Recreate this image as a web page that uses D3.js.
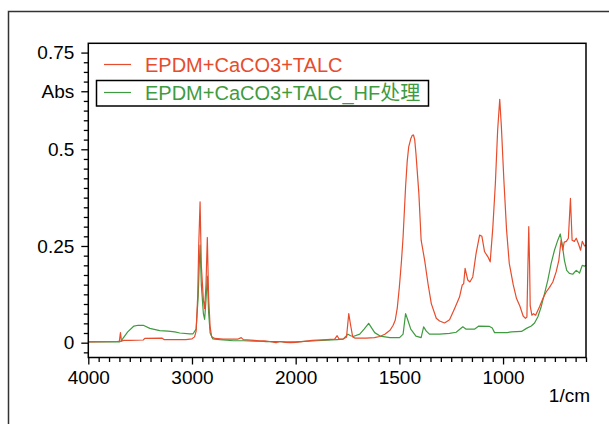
<!DOCTYPE html>
<html>
<head>
<meta charset="utf-8">
<script src="https://cdn.jsdelivr.net/npm/d3@7"></script>
<style>
  body { margin: 0; background: #fff; }
  svg { display: block; }
  .axis text { font-family: "Liberation Sans", Arial, sans-serif; font-size: 19px; fill: #000; }
  .axis line { stroke: #000; stroke-width: 1.3; }
  .legend text { font-family: "Liberation Sans", Arial, "Noto Sans CJK SC", sans-serif; font-size: 20px; }
</style>
</head>
<body>
<svg id="chart"></svg>
<script>
// series names (legend)
const seriesNames = ["EPDM+CaCO3+TALC", "EPDM+CaCO3+TALC_HF处理"];
const seriesColors = ["#e74c2c", "#3f9b3f"];

// [wavenumber 1/cm, absorbance]
const talcPoints = [
  [4000,0.002],[3720,0.003],[3700,0.004],[3690,0.026],[3680,0.004],[3660,0.006],[3600,0.006],
  [3470,0.007],[3455,0.011],[3290,0.012],[3270,0.008],[3060,0.008],[3000,0.010],[2975,0.015],
  [2960,0.03],[2945,0.12],[2935,0.25],[2922,0.364],[2910,0.2],[2890,0.11],[2878,0.088],[2865,0.15],
  [2852,0.272],[2840,0.12],[2825,0.04],[2810,0.015],[2780,0.011],[2700,0.009],[2560,0.009],
  [2525,0.013],[2505,0.008],[2400,0.006],[2350,0.005],[2300,0.005],[2250,0.003],[2190,0.000],
  [2150,0.003],[2100,0.001],[2050,0.000],[2000,0.001],[1980,0.002],[1920,0.006],[1850,0.008],
  [1812,0.009],[1800,0.018],[1790,0.009],[1770,0.010],[1755,0.014],[1744,0.075],[1735,0.045],
  [1725,0.015],[1715,0.012],[1660,0.012],[1620,0.013],[1595,0.016],[1570,0.022],[1545,0.032],
  [1530,0.045],[1520,0.058],[1510,0.09],[1500,0.144],[1490,0.21],[1482,0.274],[1470,0.403],
  [1462,0.47],[1455,0.506],[1445,0.527],[1438,0.536],[1432,0.537],[1426,0.525],[1420,0.489],
  [1406,0.386],[1395,0.265],[1378,0.213],[1362,0.153],[1346,0.101],[1322,0.063],
  [1306,0.056],[1282,0.051],[1258,0.059],[1234,0.088],[1210,0.118],[1197,0.149],[1190,0.152],
  [1183,0.192],[1170,0.162],[1160,0.157],[1146,0.170],[1130,0.231],[1113,0.278],[1102,0.275],
  [1089,0.235],[1073,0.222],[1062,0.209],[1049,0.300],[1037,0.412],[1026,0.55],[1016,0.629],
  [1008,0.558],[996,0.42],[983,0.291],[970,0.205],[951,0.150],[935,0.114],[919,0.095],[903,0.069],
  [892,0.063],[885,0.066],[880,0.2],[876,0.300],[872,0.2],[869,0.095],[861,0.071],[853,0.075],
  [843,0.071],[824,0.093],[808,0.114],[792,0.131],[776,0.143],[760,0.157],[744,0.183],[731,0.213],
  [720,0.265],[712,0.24],[705,0.26],[695,0.262],[685,0.27],[675,0.373],[667,0.265],[656,0.262],
  [647,0.27],[636,0.255],[626,0.239],[618,0.262],[607,0.25],[600,0.252]
];

const talcHfPoints = [
  [4000,0.002],[3700,0.002],[3680,0.005],[3664,0.012],[3620,0.028],[3560,0.043],[3520,0.045],
  [3470,0.045],[3407,0.037],[3311,0.031],[3231,0.030],[3166,0.028],[3118,0.025],[3022,0.023],
  [2990,0.023],[2960,0.035],[2940,0.12],[2930,0.2],[2922,0.252],[2910,0.15],[2890,0.075],
  [2878,0.06],[2865,0.11],[2852,0.172],[2840,0.08],[2825,0.025],[2800,0.010],[2733,0.008],
  [2600,0.005],[2500,0.005],[2400,0.004],[2300,0.003],[2200,0.003],[2100,0.002],[2000,0.002],
  [1900,0.005],[1800,0.008],[1771,0.009],[1748,0.022],[1735,0.018],[1723,0.016],[1691,0.022],
  [1670,0.035],[1648,0.05],[1630,0.035],[1619,0.026],[1593,0.017],[1545,0.013],[1499,0.013],
  [1482,0.022],[1470,0.075],[1459,0.058],[1445,0.035],[1420,0.017],[1395,0.013],[1383,0.041],
  [1370,0.03],[1355,0.022],[1306,0.022],[1258,0.024],[1226,0.027],[1194,0.041],[1178,0.035],
  [1138,0.035],[1117,0.043],[1065,0.042],[1052,0.038],[1041,0.026],[980,0.026],[960,0.028],
  [911,0.029],[887,0.037],[864,0.043],[848,0.051],[832,0.067],[816,0.093],[800,0.127],[784,0.162],
  [768,0.205],[752,0.239],[736,0.265],[724,0.281],[715,0.255],[704,0.213],[693,0.187],[680,0.179],
  [664,0.177],[647,0.187],[631,0.180],[618,0.200],[607,0.198],[600,0.2]
];

// axis ticks
const xMajor = [4000, 3000, 2000, 1500, 1000];
const yMajor = [0, 0.25, 0.5, 0.65, 0.75];
const yLabels = {0: "0", 0.25: "0.25", 0.5: "0.5", 0.65: "Abs", 0.75: "0.75"};

const W = 609, H = 424;
const box = {left: 88.3, right: 586, top: 43.3, bottom: 357.5};

const svg = d3.select("#chart").attr("width", W).attr("height", H);

// outer frame
svg.append("rect")
  .attr("x", 8.5).attr("y", 11.5).attr("width", 700).attr("height", 700)
  .attr("fill", "none").attr("stroke", "#333").attr("stroke-width", 1.5);

// wavenumber axis: scale changes at 2000 (1 px per 2 units above it)
const x = d3.scaleLinear()
  .domain([4000, 2000, 600])
  .range([box.left, box.left + (box.right - box.left) * 1000 / 2400, box.right]);
const y = d3.scaleLinear().domain([-0.0383, 0.774]).range([box.bottom, box.top]);

const xMinor = d3.range(3900, 2000, -100).concat(d3.range(1950, 599, -50))
  .filter(v => xMajor.indexOf(v) < 0);
const yMinor = d3.range(-0.025, 0.775, 0.025).map(v => +v.toFixed(3))
  .filter(v => yMajor.indexOf(v) < 0);

// minor ticks
svg.append("g").attr("class", "axis")
  .attr("transform", `translate(0,${box.bottom})`)
  .call(d3.axisBottom(x).tickValues(xMinor).tickSize(4.5).tickFormat(""));
svg.append("g").attr("class", "axis")
  .attr("transform", `translate(${box.left},0)`)
  .call(d3.axisLeft(y).tickValues(yMinor).tickSize(4.5).tickFormat(""));

// major ticks + labels
svg.append("g").attr("class", "axis")
  .attr("transform", `translate(0,${box.bottom})`)
  .call(d3.axisBottom(x).tickValues(xMajor).tickSize(7).tickPadding(6).tickFormat(d => d));
svg.append("g").attr("class", "axis")
  .attr("transform", `translate(${box.left},0)`)
  .call(d3.axisLeft(y).tickValues(yMajor).tickSize(7).tickPadding(7).tickFormat(d => yLabels[d]));

svg.selectAll(".axis .domain").remove();

svg.append("text")
  .attr("x", 590).attr("y", 402)
  .attr("text-anchor", "end")
  .attr("font-family", "Liberation Sans, Arial, sans-serif")
  .attr("font-size", 19)
  .text("1/cm");

// spectra
svg.append("clipPath").attr("id", "clip")
  .append("rect")
  .attr("x", box.left).attr("y", box.top)
  .attr("width", box.right - box.left).attr("height", box.bottom - box.top);

const line = d3.line().x(d => x(d[0])).y(d => y(d[1]));

[talcHfPoints, talcPoints].forEach((pts, i) => {
  svg.append("path")
    .datum(pts)
    .attr("clip-path", "url(#clip)")
    .attr("d", line)
    .attr("fill", "none")
    .attr("stroke", seriesColors[1 - i])
    .attr("stroke-width", 1.2)
    .attr("stroke-linejoin", "round");
});

// plot box
svg.append("rect")
  .attr("x", box.left).attr("y", box.top)
  .attr("width", box.right - box.left).attr("height", box.bottom - box.top)
  .attr("fill", "none").attr("stroke", "#000").attr("stroke-width", 1.5);

// legend
const legend = svg.append("g").attr("class", "legend");
legend.append("rect")
  .attr("x", 96.5).attr("y", 80.5).attr("width", 332).attr("height", 25.5)
  .attr("fill", "none").attr("stroke", "#000").attr("stroke-width", 1.5);

seriesNames.forEach((name, i) => {
  const cy = 64.5 + i * 28;
  legend.append("line")
    .attr("x1", 104).attr("x2", 131).attr("y1", cy).attr("y2", cy)
    .attr("stroke", seriesColors[i]).attr("stroke-width", 1.2);
  legend.append("text")
    .attr("x", 145).attr("y", cy + 7)
    .attr("fill", seriesColors[i])
    .text(name);
});
</script>
</body>
</html>
